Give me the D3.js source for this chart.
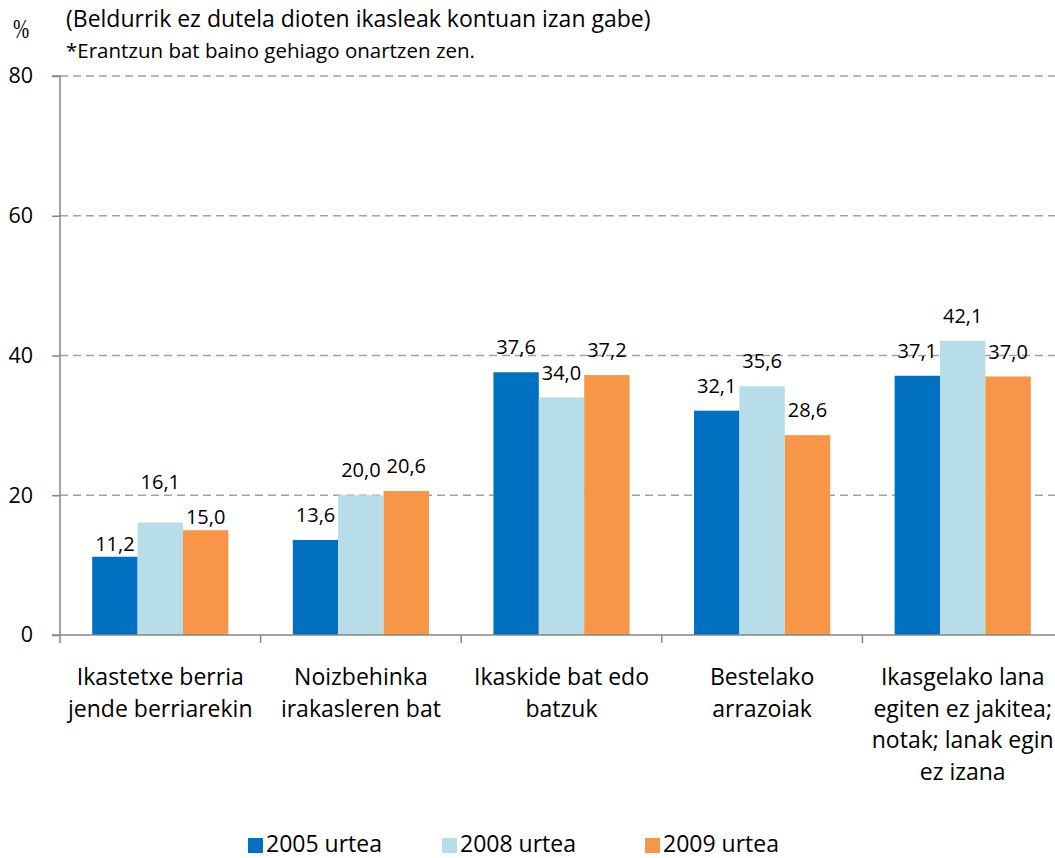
<!DOCTYPE html>
<html>
<head>
<meta charset="utf-8">
<script src="https://cdn.jsdelivr.net/npm/d3@7"></script>
<style>
  html, body { margin: 0; padding: 0; background: #fff; }
  svg { display: block; font-family: "Open Sans", Lato, sans-serif; }
</style>
</head>
<body>
<svg id="chart" width="1055" height="858"></svg>
<script>
// ---- data ----
const categories = [
  ["Ikastetxe berria", "jende berriarekin"],
  ["Noizbehinka", "irakasleren bat"],
  ["Ikaskide bat edo", "batzuk"],
  ["Bestelako", "arrazoiak"],
  ["Ikasgelako lana", "egiten ez jakitea;", "notak; lanak egin", "ez izana"]
];
const seriesNames = ["2005 urtea", "2008 urtea", "2009 urtea"];
const values2005 = [11.2, 13.6, 37.6, 32.1, 37.1];
const values2008 = [16.1, 20.0, 34.0, 35.6, 42.1];
const values2009 = [15.0, 20.6, 37.2, 28.6, 37.0];
const yTicks = [0, 20, 40, 60, 80];
const titleText = "(Beldurrik ez dutela dioten ikasleak kontuan izan gabe)";
const noteText = "*Erantzun bat baino gehiago onartzen zen.";
const unitText = "%";

// ---- layout / style ----
const colors = ["#0070C0", "#B7DDE8", "#F79646"];
const labelNudge = [[12, -16, 12], [0, 0, 0], [0, 0, 0], [0, 0, 0], [0, 0, 0]];
const allSeries = [values2005, values2008, values2009];

const svg = d3.select("#chart");
const mLeft = 60, mRight = 1063, mTop = 76, mBottom = 635;

const catKeys = categories.map((c, i) => "c" + i);
const x0 = d3.scaleBand().domain(catKeys).range([mLeft, mRight]).paddingInner(0).paddingOuter(0);
const x1 = d3.scaleBand().domain(seriesNames).range([0, x0.bandwidth()]).paddingInner(0).paddingOuter(0.71);
const y = d3.scaleLinear().domain([0, 80]).range([mBottom, mTop]);

// gridlines
svg.append("g").selectAll("line").data(yTicks.filter(t => t > 0)).join("line")
  .attr("x1", mLeft).attr("x2", 1055)
  .attr("y1", d => y(d)).attr("y2", d => y(d))
  .attr("stroke", "#a0a0a0").attr("stroke-width", 1.4)
  .attr("stroke-dasharray", "8,5");

// bars
const groups = svg.append("g").selectAll("g").data(catKeys).join("g")
  .attr("transform", d => `translate(${x0(d)},0)`);

groups.each(function(key, ci) {
  const g = d3.select(this);
  seriesNames.forEach((s, si) => {
    const v = allSeries[si][ci];
    g.append("rect")
      .attr("x", x1(s)).attr("width", x1.bandwidth())
      .attr("y", y(v)).attr("height", y(0) - y(v))
      .attr("fill", colors[si]);
  });
});

// labels
groups.each(function(key, ci) {
  const g = d3.select(this);
  seriesNames.forEach((s, si) => {
    const v = allSeries[si][ci];
    g.append("text")
      .attr("x", x1(s) + x1.bandwidth() / 2)
      .attr("y", y(v) - 25 + labelNudge[ci][si])
      .attr("dy", "0.36em")
      .attr("text-anchor", "middle")
      .attr("font-size", 20)
      .attr("fill", "#000")
      .text(v.toFixed(1).replace(".", ","));
  });
});

// y axis
const yAxis = d3.axisLeft(y).tickValues(yTicks).tickSize(8).tickPadding(19);
const ya = svg.append("g").attr("transform", `translate(${mLeft},0)`).call(yAxis);
ya.select(".domain").attr("stroke", "#868686").attr("stroke-width", 1.5).attr("d", `M-8,${mTop}H0V${mBottom}`);
ya.selectAll(".tick line").attr("stroke", "#868686").attr("stroke-width", 1.5);
ya.selectAll(".tick text").attr("font-size", 21.5).attr("font-family", "'Open Sans', sans-serif").attr("fill", "#000");

// x axis
svg.append("line").attr("x1", mLeft - 8).attr("x2", 1055).attr("y1", mBottom).attr("y2", mBottom)
  .attr("stroke", "#868686").attr("stroke-width", 1.5);
const boundaries = catKeys.map(k => x0(k));
svg.append("g").selectAll("line").data(boundaries).join("line")
  .attr("x1", d => d).attr("x2", d => d).attr("y1", mBottom).attr("y2", mBottom + 8)
  .attr("stroke", "#868686").attr("stroke-width", 1.5);

// category labels
const catG = svg.append("g");
categories.forEach((lines, ci) => {
  const cx = x0(catKeys[ci]) + x0.bandwidth() / 2;
  const t = catG.append("text")
    .attr("x", cx).attr("y", 685)
    .attr("text-anchor", "middle")
    .attr("font-size", 23)
    .attr("fill", "#000");
  lines.forEach((ln, li) => {
    t.append("tspan").attr("x", cx).attr("y", 685 + li * 31.7).text(ln);
  });
});

// titles
svg.append("text").attr("x", 13).attr("y", 38).attr("font-family", "'Liberation Serif', serif")
  .attr("font-size", 27).attr("transform", "translate(13,38) scale(0.72,1) translate(-13,-38)").text(unitText);
svg.append("text").attr("x", 66).attr("y", 27).attr("font-size", 23).text(titleText);
svg.append("text").attr("x", 66).attr("y", 58).attr("font-size", 20.5).text(noteText);

// legend
const legendX = [248, 442, 645];
const lg = svg.append("g");
seriesNames.forEach((s, i) => {
  lg.append("rect").attr("x", legendX[i]).attr("y", 838).attr("width", 15).attr("height", 15).attr("fill", colors[i]);
  lg.append("text").attr("x", legendX[i] + 18).attr("y", 852).attr("font-size", 23).text(s);
});
</script>
</body>
</html>
